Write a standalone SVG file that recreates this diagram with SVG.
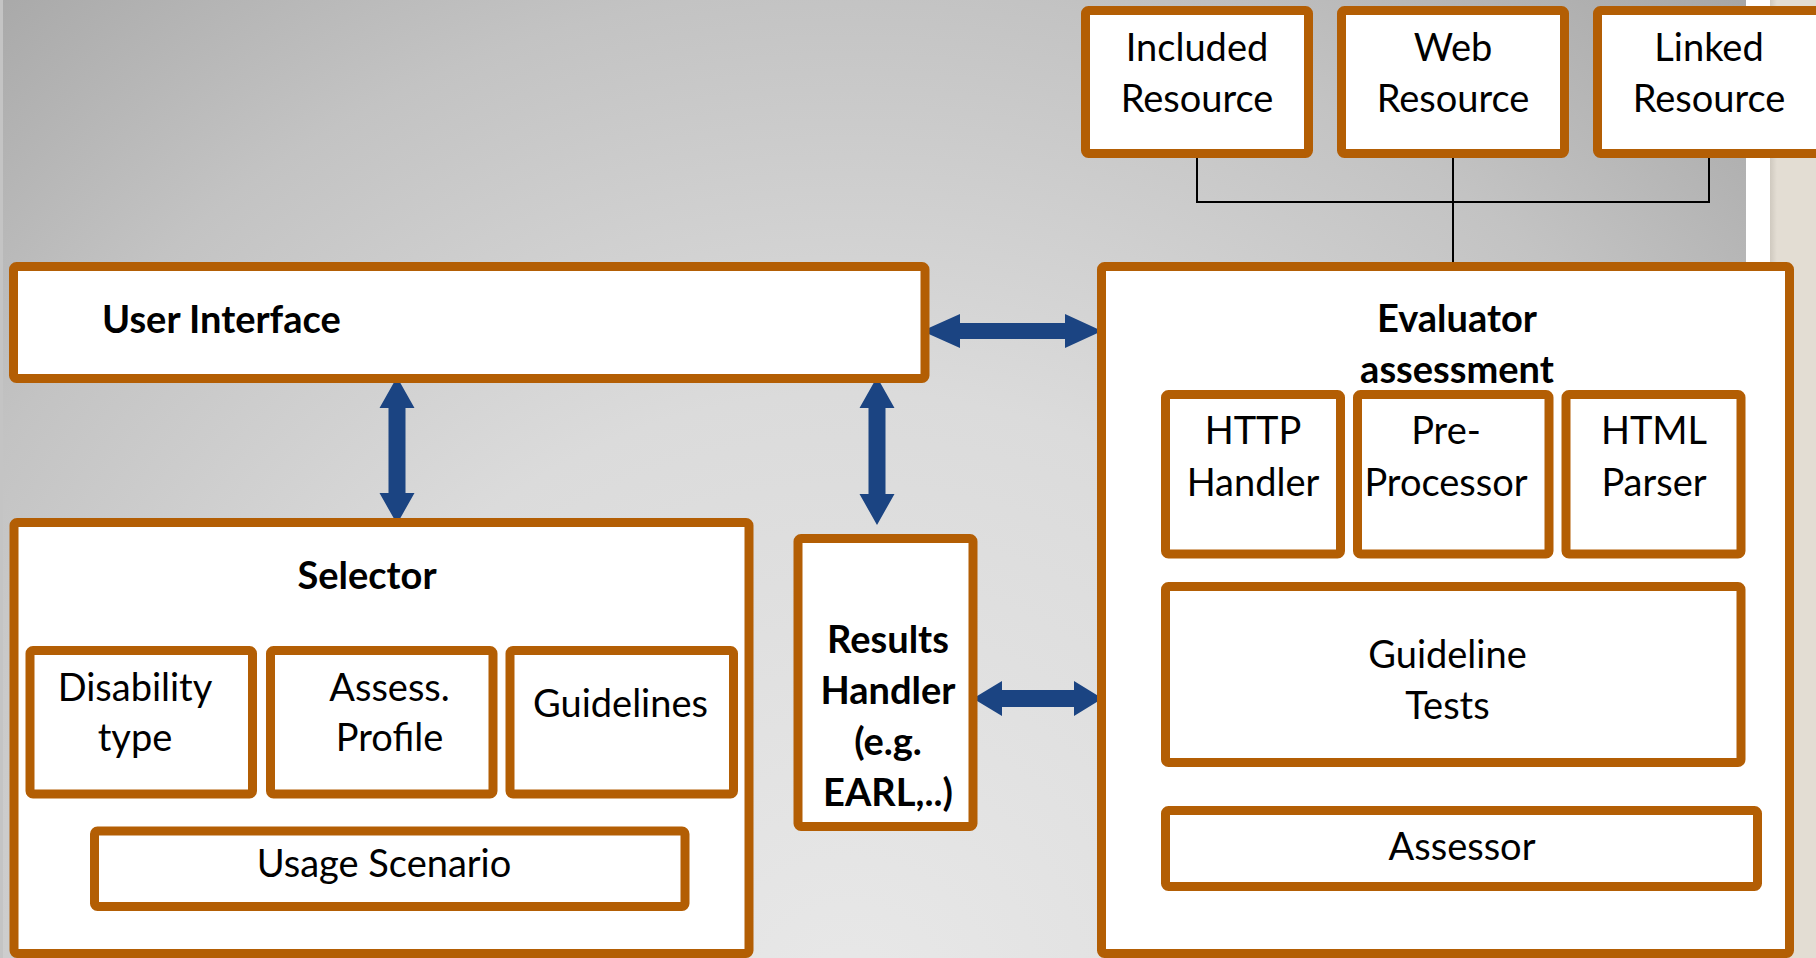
<svg xmlns="http://www.w3.org/2000/svg" width="1816" height="958" viewBox="0 0 1816 958">
  <defs>
    <radialGradient id="bg" gradientUnits="userSpaceOnUse" cx="850" cy="1000" r="1350">
      <stop offset="0" stop-color="#e8e8e8"/>
      <stop offset="0.45" stop-color="#dbdbdb"/>
      <stop offset="0.75" stop-color="#c3c3c3"/>
      <stop offset="1" stop-color="#a6a6a6"/>
    </radialGradient>
    <linearGradient id="edge" x1="0" y1="0" x2="1" y2="0">
      <stop offset="0" stop-color="#cfc9bf"/>
      <stop offset="0.15" stop-color="#e3ddd3"/>
      <stop offset="1" stop-color="#e3ddd3"/>
    </linearGradient>
    <style>
      .box { fill: #ffffff; stroke: #b35e04; stroke-width: 9; }
      .t { font-family: Lato, "Liberation Sans", sans-serif; font-size: 38px; fill: #000000; text-anchor: middle; }
      .b { font-weight: bold; }
      .arrow { fill: #1b4482; }
      .wire { fill: none; stroke: #000000; stroke-width: 2; }
    </style>
  </defs>

  <!-- backdrop -->
  <rect x="0" y="0" width="1746" height="958" fill="url(#bg)"/>
  <rect x="0" y="0" width="3" height="958" fill="#c4c4c4"/>
  <rect x="1746" y="0" width="24" height="958" fill="#ffffff"/>
  <rect x="1770" y="0" width="46" height="958" fill="url(#edge)"/>

  <!-- connectors -->
  <g id="connectors">
    <polyline class="wire" points="1197,155 1197,202 1709,202 1709,155"/>
    <line class="wire" x1="1453" y1="155" x2="1453" y2="266"/>
    <polygon class="arrow" points="922,331 960,314 960,323 1065,323 1065,314 1102,331 1065,348 1065,339 960,339 960,348"/>
    <polygon class="arrow" points="397,377 414.5,408 405.5,408 405.5,493 414.5,493 397,524 379.5,493 388.5,493 388.5,408 379.5,408"/>
    <polygon class="arrow" points="877,377 894.5,408 885.5,408 885.5,494 894.5,494 877,525 859.5,494 868.5,494 868.5,408 859.5,408"/>
    <polygon class="arrow" points="973,698.5 1002,681 1002,690 1074,690 1074,681 1102.5,698.5 1074,716 1074,707 1002,707 1002,716"/>
  </g>

  <!-- resources -->
  <g id="included-resource">
    <rect class="box" x="1085.5" y="10.5" width="223" height="143" rx="3"/>
    <text class="t" x="1197" y="61">Included</text>
    <text class="t" x="1197" y="112">Resource</text>
  </g>
  <g id="web-resource">
    <rect class="box" x="1341.5" y="10.5" width="223" height="143" rx="3"/>
    <text class="t" x="1453" y="61">Web</text>
    <text class="t" x="1453" y="112">Resource</text>
  </g>
  <g id="linked-resource">
    <rect class="box" x="1597.5" y="10.5" width="240" height="143" rx="3"/>
    <text class="t" x="1709" y="61">Linked</text>
    <text class="t" x="1709" y="112">Resource</text>
  </g>

  <!-- user interface -->
  <g id="user-interface">
    <rect class="box" x="13.5" y="266.5" width="911.5" height="112" rx="3"/>
    <text class="t b" x="102" y="333" text-anchor="start" style="text-anchor:start">User Interface</text>
  </g>

  <!-- selector -->
  <g id="selector">
    <rect class="box" x="14" y="522.5" width="735" height="431" rx="3"/>
    <text class="t b" x="367" y="589">Selector</text>
  </g>
  <g id="disability-type">
    <rect class="box" x="30" y="650.5" width="222.5" height="143.5" rx="3"/>
    <text class="t" x="135" y="701">Disability</text>
    <text class="t" x="135" y="751">type</text>
  </g>
  <g id="assess-profile">
    <rect class="box" x="270.5" y="650.5" width="222.5" height="143.5" rx="3"/>
    <text class="t" x="389.5" y="701">Assess.</text>
    <text class="t" x="389.5" y="751">Profile</text>
  </g>
  <g id="guidelines">
    <rect class="box" x="510" y="650.5" width="223.5" height="143.5" rx="3"/>
    <text class="t" x="620.5" y="717">Guidelines</text>
  </g>
  <g id="usage-scenario">
    <rect class="box" x="94.5" y="831" width="590.5" height="75.5" rx="3"/>
    <text class="t" x="384" y="877">Usage Scenario</text>
  </g>

  <!-- results handler -->
  <g id="results-handler">
    <rect class="box" x="798" y="538.5" width="175" height="288" rx="3"/>
    <text class="t b" x="888" y="653">Results</text>
    <text class="t b" x="888" y="704">Handler</text>
    <text class="t b" x="888" y="755">(e.g.</text>
    <text class="t b" x="888" y="806">EARL,..)</text>
  </g>

  <!-- evaluator -->
  <g id="evaluator-assessment">
    <rect class="box" x="1101.5" y="266.5" width="688" height="687" rx="3"/>
    <text class="t b" x="1457" y="332">Evaluator</text>
    <text class="t b" x="1457" y="383">assessment</text>
  </g>
  <g id="http-handler">
    <rect class="box" x="1165.5" y="394.5" width="175" height="159.5" rx="3"/>
    <text class="t" x="1253" y="444">HTTP</text>
    <text class="t" x="1253" y="496">Handler</text>
  </g>
  <g id="pre-processor">
    <rect class="box" x="1357.5" y="394.5" width="191.5" height="159.5" rx="3"/>
    <text class="t" x="1446" y="444">Pre-</text>
    <text class="t" x="1446" y="496">Processor</text>
  </g>
  <g id="html-parser">
    <rect class="box" x="1566" y="394.5" width="175" height="159.5" rx="3"/>
    <text class="t" x="1654" y="444">HTML</text>
    <text class="t" x="1654" y="496">Parser</text>
  </g>
  <g id="guideline-tests">
    <rect class="box" x="1165.5" y="586.5" width="575.5" height="176" rx="3"/>
    <text class="t" x="1447.5" y="668">Guideline</text>
    <text class="t" x="1447.5" y="719">Tests</text>
  </g>
  <g id="assessor">
    <rect class="box" x="1165.5" y="810.5" width="592" height="76" rx="3"/>
    <text class="t" x="1462" y="860">Assessor</text>
  </g>
</svg>
